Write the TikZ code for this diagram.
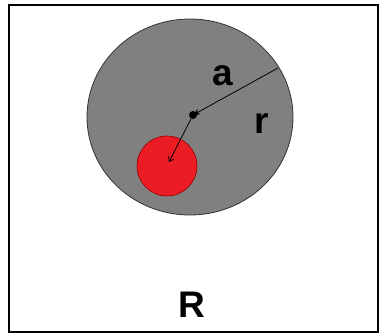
\documentclass[tikz,border=0pt]{standalone}
\usepackage{fontspec}
\setmainfont{Liberation Sans}
\usepackage{xcolor}
\usetikzlibrary{shapes.geometric, arrows.meta, positioning}

\definecolor{discgray}{RGB}{128,128,128}
\definecolor{spotred}{RGB}{236,28,36}

\begin{document}
\begin{tikzpicture}[
x=1pt, y=-1pt,
font=\fontsize{37}{40}\selectfont\bfseries,
bigdisc/.style={
ellipse,
draw=black!80,
fill=discgray,
line width=0.8pt,
minimum width=206pt,
minimum height=196pt,
inner sep=0pt
},
smalldisc/.style={
circle,
draw=red!60!black,
fill=spotred,
line width=0.6pt,
minimum size=60pt,
inner sep=0pt
},
lettertext/.style={
inner sep=0pt
}
]
\useasboundingbox (0,0) rectangle (380,336);

% frame
\draw[line width=2.2pt] (9,5) rectangle (378,332);

\node[bigdisc] (disc) at (190,117) {};
\node[smalldisc] (spot) at (167,166) {};

\coordinate (edge) at (278,68);
\coordinate (spotcentre) at (169,162);
\node[circle, fill=black, minimum size=8pt, inner sep=0pt] (centre) at (193,115) {};

% radius arrows
\draw[line width=0.8pt, -{Stealth[length=7pt, width=6pt]}] (edge) -- (centre.center);
\draw[line width=0.8pt, -{Straight Barb[length=4pt, width=6pt]}] (centre) -- (spotcentre);

\node[lettertext] (alabel) at (223,76) {a};
\node[lettertext] (rlabel) at (262,124) {r};
\node[lettertext] (Rlabel) at (192,305) {R};

\end{tikzpicture}
\end{document}
